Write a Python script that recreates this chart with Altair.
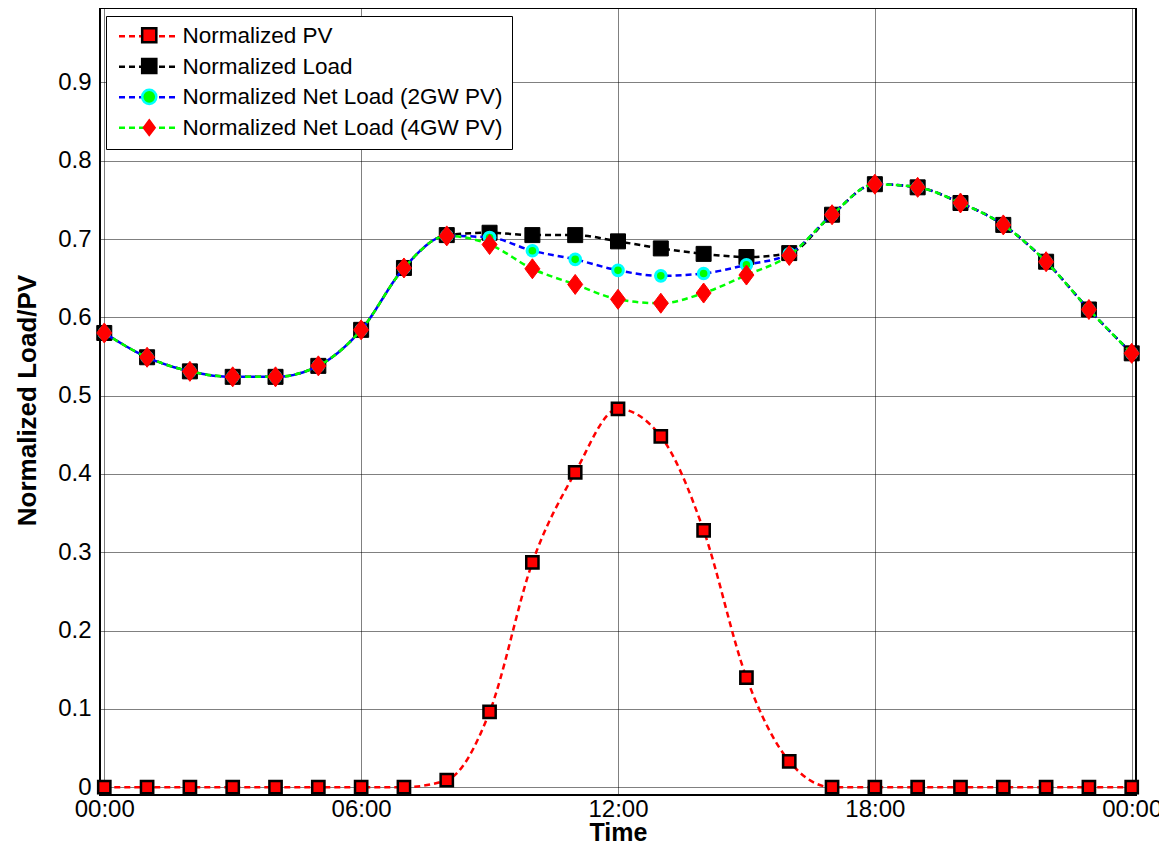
import altair as alt
import pandas as pd

FONT = "Liberation Sans, Arial, sans-serif"

hours = list(range(25))
series_names = [
    "Normalized PV",
    "Normalized Load",
    "Normalized Net Load (2GW PV)",
    "Normalized Net Load (4GW PV)",
]
marker_keys = ["PV", "Load", "Net2", "Net4"]
pv = [0, 0, 0, 0, 0, 0, 0, 0, 0.009, 0.096, 0.287, 0.402, 0.483, 0.448, 0.328,
      0.140, 0.033, 0, 0, 0, 0, 0, 0, 0, 0]
load = [0.580, 0.549, 0.531, 0.524, 0.524, 0.538, 0.584, 0.663, 0.705, 0.708,
        0.705, 0.705, 0.697, 0.688, 0.681, 0.677, 0.682, 0.731, 0.770, 0.766,
        0.746, 0.718, 0.671, 0.610, 0.554]
net2 = [0.580, 0.549, 0.531, 0.524, 0.524, 0.538, 0.584, 0.663, 0.704, 0.702,
        0.685, 0.674, 0.660, 0.653, 0.656, 0.667, 0.681, 0.731, 0.770, 0.766,
        0.746, 0.718, 0.671, 0.610, 0.554]
net4 = [0.580, 0.549, 0.531, 0.524, 0.524, 0.538, 0.584, 0.663, 0.704, 0.693,
        0.662, 0.642, 0.623, 0.618, 0.631, 0.654, 0.679, 0.731, 0.770, 0.766,
        0.746, 0.718, 0.671, 0.610, 0.554]

x_ticks = [0, 6, 12, 18, 24]
y_ticks = [0, 0.1, 0.2, 0.3, 0.4, 0.5, 0.6, 0.7, 0.8, 0.9]

line_colors = ["#ff0000", "#000000", "#0000ff", "#00ff00"]
marker_shapes = ["square", "square", "circle", "M0,-1L0.75,0L0,1L-0.75,0Z"]
marker_fills = ["#ff0000", "#000000", "#00ff00", "#ff0000"]
marker_strokes = ["#000000", "#000000", "#00ffff", "#ff0000"]

rows = []
for name, key, vals in zip(series_names, marker_keys, [pv, load, net2, net4]):
    for h, v in zip(hours, vals):
        rows.append({"hour": h, "value": v, "series": name, "marker": key})
df = pd.DataFrame(rows)

x_axis = alt.Axis(
    values=x_ticks,
    labelExpr="datum.value == 24 ? '00:00' : (datum.value < 10 ? '0' : '') + datum.value + ':00'",
    title="Time", grid=True, gridDash=[1, 1], gridColor="black", gridOpacity=1,
    ticks=False, domain=False, labelFontSize=24, labelFont=FONT, labelColor="black",
    labelPadding=2, labelFlush=False, titleFontSize=25, titleFont=FONT,
    titleFontWeight="bold", titleColor="black", titleY=45, titleBaseline="alphabetic",
)
y_axis = alt.Axis(
    values=y_ticks,
    labelExpr="datum.value == 0 ? '0' : format(datum.value, '.1f')",
    title="Normalized Load/PV", grid=True, gridDash=[1, 1], gridColor="black",
    gridOpacity=1, ticks=False, domain=False, labelFontSize=24, labelFont=FONT,
    labelColor="black", labelPadding=9, labelFlush=False, titleFontSize=26,
    titleFont=FONT, titleFontWeight="bold", titleColor="black", titleX=-65,
    titleY=392, titleBaseline="alphabetic",
)

x_enc = alt.X("hour:Q", scale=alt.Scale(domain=[-0.1, 24.1], nice=False, zero=False), axis=x_axis)
y_enc = alt.Y("value:Q", scale=alt.Scale(domain=[-0.01, 0.995], nice=False, zero=False), axis=y_axis)

line_legend = alt.Legend(
    title=None, orient="none", legendX=6, legendY=8, direction="vertical",
    symbolType="M-3.9,0H3.9", symbolSize=225, symbolStrokeWidth=2.5, symbolDash=[6, 4],
    symbolOffset=22, labelOffset=23, labelFontSize=22.5, labelFont=FONT,
    labelColor="black", labelLimit=600, padding=9, rowPadding=7.5,
    strokeColor="black", fillColor="white", cornerRadius=0, zindex=0,
)
marker_legend = alt.Legend(
    title=None, orient="none", legendX=6, legendY=7, direction="vertical",
    symbolSize=200, symbolStrokeWidth=2.5, symbolOffset=23, labelOffset=23,
    labelFontSize=22.5, labelFont=FONT, labelOpacity=0, labelLimit=600,
    padding=9, rowPadding=5.8, cornerRadius=0, zindex=1,
)

color_scale = alt.Scale(domain=series_names, range=line_colors)
shape_scale = alt.Scale(domain=marker_keys, range=marker_shapes)
fill_scale = alt.Scale(domain=marker_keys, range=marker_fills)
stroke_scale = alt.Scale(domain=marker_keys, range=marker_strokes)

dash_offsets = [0, 0, 5, 0]
marker_sizes = [150, 225, 113, 400]
marker_widths = [2.5, 1, 3, 1]

layers = []
for i, name in enumerate(series_names):
    base = alt.Chart(df).transform_filter(alt.datum.series == name)
    layers.append(
        base.mark_line(strokeDash=[6, 4], strokeWidth=2.5, strokeDashOffset=dash_offsets[i],
                       interpolate="monotone").encode(
            x=x_enc, y=y_enc,
            color=alt.Color("series:N", scale=color_scale, legend=line_legend),
        )
    )
    layers.append(
        base.mark_point(filled=True, opacity=1, size=marker_sizes[i],
                        strokeWidth=marker_widths[i]).encode(
            x=x_enc, y=y_enc,
            shape=alt.Shape("marker:N", scale=shape_scale, legend=marker_legend),
            fill=alt.Fill("marker:N", scale=fill_scale, legend=marker_legend),
            stroke=alt.Stroke("marker:N", scale=stroke_scale, legend=marker_legend),
        )
    )

chart = alt.layer(*layers).properties(
    width=1036, height=787,
    padding={"left": 92, "top": 0, "right": 23, "bottom": 50},
    autosize=alt.AutoSizeParams(type="none"),
    background="white",
).configure_view(stroke="black", strokeWidth=2)

chart.save("out.html", embed_options={"renderer": "svg", "actions": False})
